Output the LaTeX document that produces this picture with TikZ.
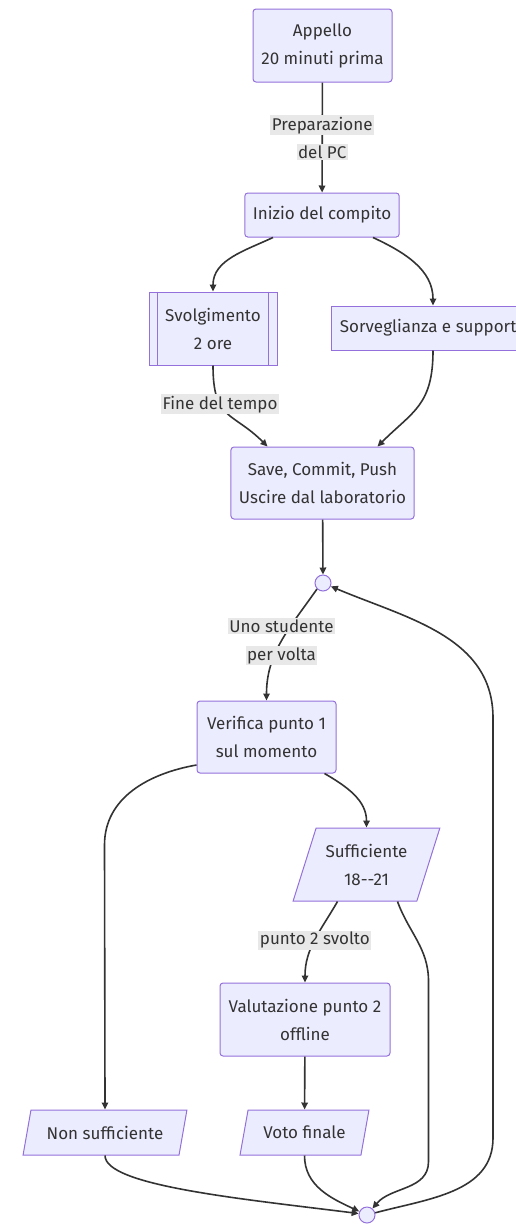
\documentclass[tikz,border=0pt]{standalone}
\usepackage{fontspec}
\setmainfont{Fira Sans}
\usetikzlibrary{arrows.meta,shapes.geometric}
\definecolor{nodefill}{HTML}{ECECFF}
\definecolor{nodeline}{HTML}{9370DB}
\definecolor{inkgray}{HTML}{333333}
\definecolor{lblbg}{HTML}{E8E8E8}
\newcommand{\etich}[1]{{\setlength{\fboxsep}{1.5pt}\colorbox{lblbg}{#1}}}

\begin{document}
\begin{tikzpicture}[x=1pt, y=1pt,
	font=\fontsize{17}{28}\selectfont, text=inkgray,
	box/.style={draw=nodeline, fill=nodefill, line width=1pt, rounded corners=3pt, align=center, inner xsep=8pt, inner ysep=0pt, minimum height=44pt},
	sqbox/.style={box, rounded corners=0pt},
	para/.style={trapezium, trapezium left angle=64, trapezium right angle=116, trapezium stretches=true, draw=nodeline, fill=nodefill, line width=1pt, align=center, inner ysep=0pt, minimum height=45pt},
	punto/.style={circle, draw=nodeline, fill=nodefill, line width=1pt, minimum size=16pt, inner sep=0pt},
	flusso/.style={draw=inkgray, line width=1.6pt, -{Triangle[length=7pt,width=6.5pt]}},
	etich/.style={align=center, inner sep=0pt}]
\useasboundingbox (0,0) rectangle (515,-1229);

	%% Nodi
	\node[box, minimum width=139pt, minimum height=73pt] (appello) at (322.5,-45.5) {Appello\\20 minuti prima};
	\node[box, minimum width=154pt] (inizio) at (322,-215) {Inizio del compito};
	\node[sqbox, minimum width=128pt, minimum height=73pt] (svolg) at (213,-328.5) {Svolgimento\\2 ore};
	\draw[draw=nodeline, line width=1pt] ([xshift=9pt]svolg.north west) -- ([xshift=9pt]svolg.south west);
	\draw[draw=nodeline, line width=1pt] ([xshift=-9pt]svolg.north east) -- ([xshift=-9pt]svolg.south east);
	\node[sqbox, minimum width=204pt] (sorv) at (433,-328) {Sorveglianza e supporto};
	\node[box, minimum width=183pt, minimum height=72pt] (save) at (322.5,-483) {Save, Commit, Push\\Uscire dal laboratorio};
	\node[punto] (c1) at (323,-583) {};
	\node[box, minimum width=139pt, minimum height=72pt] (verifica) at (266.5,-737) {Verifica punto 1\\sul momento};
	\node[para, minimum width=147pt, minimum height=73pt] (suff) at (366.5,-864.5) {Sufficiente\\18-{}-21};
	\node[box, minimum width=170pt, minimum height=73pt] (valut) at (305,-1019.5) {Valutazione punto 2\\offline};
	\node[para, minimum width=164pt] (nonsuff) at (105,-1132.5) {Non sufficiente};
	\node[para, minimum width=129pt] (voto) at (304.5,-1132.5) {Voto finale};
	\node[punto] (c2) at (367,-1215) {};

	%% Collegamenti
	\draw[flusso] (appello) -- node[etich] {\etich{Preparazione}\\\etich{del PC}} (inizio);
	\draw[flusso] ([xshift=-49pt]inizio.south) to[out=-155,in=90] (svolg.north);
	\draw[flusso] ([xshift=51pt]inizio.south) to[out=-25,in=90] (sorv.north);
	\draw[flusso] (svolg.south) .. controls +(0,-55) and +(-35,35) .. node[etich, pos=0.35] {\etich{Fine del tempo}} ([xshift=-55pt]save.north);
	\draw[flusso] (sorv.south) .. controls +(0,-55) and +(35,35) .. ([xshift=55pt]save.north);
	\draw[flusso] (save) -- (c1);
	\draw[flusso] (c1.south west) to[out=-125,in=90] node[etich] {\etich{Uno studente}\\\etich{per volta}} (verifica.north);
	\draw[flusso] ([xshift=58pt]verifica.south) to[out=-30,in=90] (suff.north);
	\draw[flusso] ([yshift=-28pt]verifica.west) to[out=190,in=90] ++(-92,-80) -- (nonsuff.north);
	\draw[flusso] ([xshift=-29pt]suff.south) to[out=-120,in=90] node[etich, pos=0.5] {\etich{punto 2 svolto}} (valut.north);
	\draw[flusso] (valut) -- (voto);
	\draw[flusso] ([xshift=31pt]suff.south) to[out=-70,in=90] ++(31,-80) -- ++(0,-180) to[out=-90,in=50] (c2);
	\draw[flusso] (nonsuff.south) .. controls +(0,-30) and +(-120,15) .. (c2.170);
	\draw[flusso] (voto.south) to[out=-90,in=155] (c2);
	\draw[flusso] (c2) to[out=15,in=-90] ++(126,77) -- ++(0,420) to[out=90,in=-23] (c1);

%\draw (current bounding box.south west) rectangle (current bounding box.north east);
\end{tikzpicture}
\end{document}
